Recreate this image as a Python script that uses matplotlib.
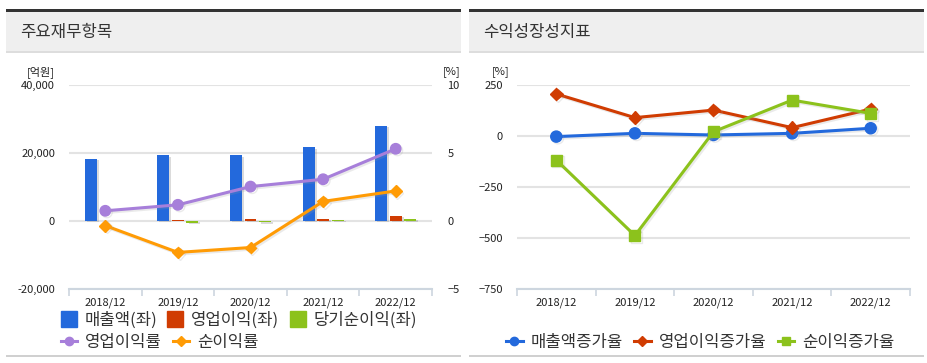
import matplotlib
matplotlib.use("Agg")
import matplotlib.pyplot as plt
import matplotlib.patheffects as pe
from matplotlib.lines import Line2D
from matplotlib.patches import Rectangle
import numpy as np

plt.rcParams['font.family'] = ['Noto Sans CJK KR', 'DejaVu Sans']

# ---------------- data ----------------
categories = ["2018/12", "2019/12", "2020/12", "2021/12", "2022/12"]
sales = [18300, 19300, 19300, 21700, 28000]            # 매출액(좌)
op_income = [np.nan, 230, 480, 670, 1500]              # 영업이익(좌)
net_income = [np.nan, -460, -390, 300, 610]            # 당기순이익(좌)
op_margin = [0.75, 1.19, 2.53, 3.07, 5.31]             # 영업이익률
net_margin = [-0.34, -2.31, -1.95, 1.44, 2.21]         # 순이익률

sales_growth = [-3, 13, 5, 13, 38]                     # 매출액증가율
op_growth = [206, 90, 127, 41, 132]                    # 영업이익증가율
net_growth = [-118, -488, 21, 176, 111]                # 순이익증가율

left_ticks = [-20000, 0, 20000, 40000]
left_ticklabels = ["-20,000", "0", "20,000", "40,000"]
pct_ticks = [-5, 0, 5, 10]
growth_ticks = [-750, -500, -250, 0, 250]

# ---------------- styles ----------------
C_BLUE = "#2369dc"
C_RED = "#d03c02"
C_GREEN = "#8cc21c"
C_PURPLE = "#a77fda"
C_ORANGE = "#ff9b05"
GRID = "#e3e3e3"
AXIS = "#cdd6df"
TXT = "#222222"

W, H = 928, 363
fig = plt.figure(figsize=(W / 100, H / 100), dpi=100)
fig.patch.set_facecolor("white")


def px_rect(x0, y0, x1, y1, color, z=0):
    fig.patches.append(Rectangle((x0 / W, 1 - y1 / H), (x1 - x0) / W, (y1 - y0) / H,
                                 transform=fig.transFigure, facecolor=color,
                                 edgecolor="none", zorder=z))


def panel_frame(x0, x1, title):
    px_rect(x0, 11, x1, 51, "#efefef")
    px_rect(x0, 9, x1, 11.5, "#333333")
    px_rect(x0, 51, x1, 52.5, "#dddddd")
    px_rect(x0, 354.5, x1, 357, "#d0d0d0")
    fig.text((x0 + 14) / W, 1 - 33 / H, title, fontsize=12, color="#333333",
             va="center", ha="left", fontweight="light")


panel_frame(6, 461, "주요재무항목")
panel_frame(469, 924, "수익성장성지표")


def style_axes(ax, x0, x1):
    ax.set_position([x0 / W, 1 - 289 / H, (x1 - x0) / W, (289 - 85) / H])
    for s in ["top", "right", "left"]:
        ax.spines[s].set_visible(False)
    ax.spines["bottom"].set_color(AXIS)
    ax.spines["bottom"].set_linewidth(1.5)
    ax.set_xlim(-0.5, len(categories) - 0.5)
    ax.set_xticks(range(len(categories)))
    ax.set_xticklabels(categories, fontsize=8, color=TXT)
    ax.set_xticks(np.arange(-0.5, len(categories), 1.0), minor=True)
    ax.tick_params(axis="x", which="major", length=0, pad=6)
    ax.tick_params(axis="x", which="minor", length=5, width=1.2, color=AXIS)
    ax.tick_params(axis="y", length=0, labelsize=8, labelcolor=TXT, pad=10)
    ax.grid(axis="y", color=GRID, linewidth=1.5)
    ax.set_axisbelow(True)


# ---------------- left chart ----------------
ax1 = fig.add_axes([0, 0, 1, 1])
style_axes(ax1, 69, 432)
ax1.set_ylim(-20000, 40000)
ax1.set_yticks(left_ticks)
ax1.set_yticklabels(left_ticklabels)
x = np.arange(len(categories))
bw = 0.165
shadow = [pe.SimplePatchShadow(offset=(1.5, -1.0), shadow_rgbFace="#888888", alpha=0.3), pe.Normal()]
b1 = ax1.bar(x - 0.2, sales, bw, color=C_BLUE, path_effects=shadow, zorder=3)
b2 = ax1.bar(x, op_income, bw, color=C_RED, path_effects=shadow, zorder=3)
b3 = ax1.bar(x + 0.2, net_income, bw, color=C_GREEN, path_effects=shadow, zorder=3)
ax1.text(-0.04, 1.065, "[억원]", transform=ax1.transAxes, fontsize=8, color=TXT,
         ha="right", va="center")

ax1r = ax1.twinx()
ax1r.set_position(ax1.get_position())
ax1r.set_ylim(-5, 10)
ax1r.set_yticks(pct_ticks)
for s in ["top", "right", "left", "bottom"]:
    ax1r.spines[s].set_visible(False)
ax1r.tick_params(axis="y", length=0, labelsize=8, labelcolor=TXT, pad=11)
lshadow = [pe.SimpleLineShadow(offset=(1.2, -1.2), shadow_color="#999999", alpha=0.2), pe.Normal()]
ax1r.plot(x, op_margin, color=C_PURPLE, lw=2.2, marker="o", ms=7.5, zorder=4,
          path_effects=lshadow)
ax1r.plot(x, net_margin, color=C_ORANGE, lw=2.2, marker="D", ms=6, zorder=4,
          path_effects=lshadow)
ax1r.text(1.03, 1.065, "[%]", transform=ax1r.transAxes, fontsize=8, color=TXT,
          ha="left", va="center")

leg_kw = dict(frameon=False, fontsize=12, loc="center left", borderpad=0,
              handletextpad=0.5, columnspacing=0.65, labelcolor="#333333",
              borderaxespad=0)
h_bars = [Line2D([], [], ls="none", marker="s", ms=11, color=c) for c in (C_BLUE, C_RED, C_GREEN)]
fig.legend(h_bars, ["매출액(좌)", "영업이익(좌)", "당기순이익(좌)"], ncol=3,
           bbox_to_anchor=(61 / W, 1 - 320 / H), handlelength=0.9, **leg_kw)
h_lines = [Line2D([], [], color=C_PURPLE, lw=2.2, marker="o", ms=6),
           Line2D([], [], color=C_ORANGE, lw=2.2, marker="D", ms=5)]
fig.legend(h_lines, ["영업이익률", "순이익률"], ncol=2,
           bbox_to_anchor=(61 / W, 1 - 342 / H), handlelength=0.95, **leg_kw)

# ---------------- right chart ----------------
ax2 = fig.add_axes([0, 0, 1, 1])
style_axes(ax2, 517, 910)
ax2.set_ylim(-750, 250)
ax2.set_yticks(growth_ticks)
ax2.text(-0.018, 1.065, "[%]", transform=ax2.transAxes, fontsize=8, color=TXT,
         ha="right", va="center")
ax2.plot(x, sales_growth, color=C_BLUE, lw=2.2, marker="o", ms=8, zorder=3,
         path_effects=lshadow)
ax2.plot(x, op_growth, color=C_RED, lw=2.2, marker="D", ms=6.5, zorder=4,
         path_effects=lshadow)
ax2.plot(x, net_growth, color=C_GREEN, lw=2.2, marker="s", ms=8, zorder=5,
         path_effects=lshadow)
h_g = [Line2D([], [], color=C_BLUE, lw=2.2, marker="o", ms=6),
       Line2D([], [], color=C_RED, lw=2.2, marker="D", ms=5),
       Line2D([], [], color=C_GREEN, lw=2.2, marker="s", ms=6)]
fig.legend(h_g, ["매출액증가율", "영업이익증가율", "순이익증가율"], ncol=3,
           bbox_to_anchor=(506 / W, 1 - 342 / H), handlelength=1.0, **leg_kw)

fig.savefig("out.png", dpi=100, facecolor="white")
